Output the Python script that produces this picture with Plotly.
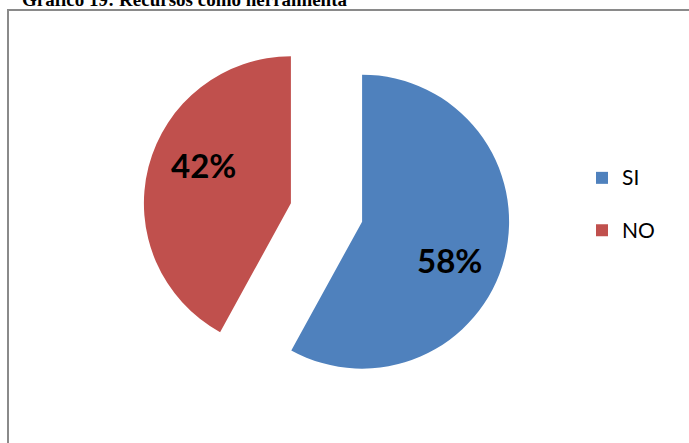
import math
import plotly.graph_objects as go

# Survey answers and their shares
labels = ["SI", "NO"]
values = [58, 42]
colors = ["#4F81BD", "#C0504D"]
title_text = "Gráfico 19: Recursos como herramienta"

W, H = 689, 443

# pie geometry (pixels): square domain, pulled-out slices
PULL = 0.25
DOM_X = (142.75, 510.25)
DOM_Y = (28.75, 396.25)
LABEL_DIST = 0.65      # label distance from slice apex, in radii
LABEL_TURN = 9         # clockwise nudge of the labels, in degrees

# extra blank line in each legend entry widens the spacing between items
legend_labels = [f"<span style='font-size:21px'>{lab}</span><br>\u00a0" for lab in labels]

fig = go.Figure(
    go.Pie(
        labels=legend_labels,
        values=values,
        sort=False,
        direction="clockwise",
        rotation=0,
        pull=[PULL] * len(values),
        marker=dict(colors=colors, line=dict(width=0)),
        textinfo="none",
        hoverinfo="skip",
        domain=dict(x=[DOM_X[0] / W, DOM_X[1] / W], y=[1 - DOM_Y[1] / H, 1 - DOM_Y[0] / H]),
    )
)

# percentage labels placed inside each slice, derived from the values
cx = (DOM_X[0] + DOM_X[1]) / 2
cy = (DOM_Y[0] + DOM_Y[1]) / 2
r = (DOM_X[1] - DOM_X[0]) / 2 / (1 + PULL)
total = sum(values)
start = 0.0
for v in values:
    frac = v / total
    mid = math.radians((start + frac / 2) * 360)
    start += frac
    dx, dy = math.sin(mid), -math.cos(mid)
    ax, ay = cx + PULL * r * dx, cy + PULL * r * dy
    turn = mid + math.radians(LABEL_TURN)
    px = ax + LABEL_DIST * r * math.sin(turn)
    py = ay - LABEL_DIST * r * math.cos(turn)
    fig.add_annotation(
        text=f"<b>{round(frac * 100)}%</b>", xref="paper", yref="paper",
        x=px / W, y=1 - py / H, xanchor="center", yanchor="middle",
        showarrow=False,
        font=dict(family="Lato, Open Sans, sans-serif", size=33, color="black"),
    )

# frame around the chart area
fig.add_shape(
    type="rect", xref="paper", yref="paper",
    x0=8 / W, x1=1.05, y0=-0.05, y1=1 - 10 / H,
    line=dict(color="#8a8a8a", width=2), fillcolor="rgba(0,0,0,0)",
)

fig.add_annotation(
    text=f"<b>{title_text}</b>", xref="paper", yref="paper",
    x=20 / W, y=1 - 12 / H, xanchor="left", yanchor="bottom",
    showarrow=False,
    font=dict(family="Liberation Serif, Times New Roman, serif", size=19, color="black"),
)

fig.update_layout(
    width=W, height=H, autosize=False,
    margin=dict(l=0, r=0, t=0, b=0),
    paper_bgcolor="white", plot_bgcolor="white",
    showlegend=True,
    legend=dict(
        x=582 / W, y=1 - 159 / H, xanchor="left", yanchor="top",
        valign="top",
        font=dict(family="Lato, Open Sans, sans-serif", size=19, color="black"),
        bgcolor="rgba(0,0,0,0)",
    ),
)

fig.write_html("out.html")
